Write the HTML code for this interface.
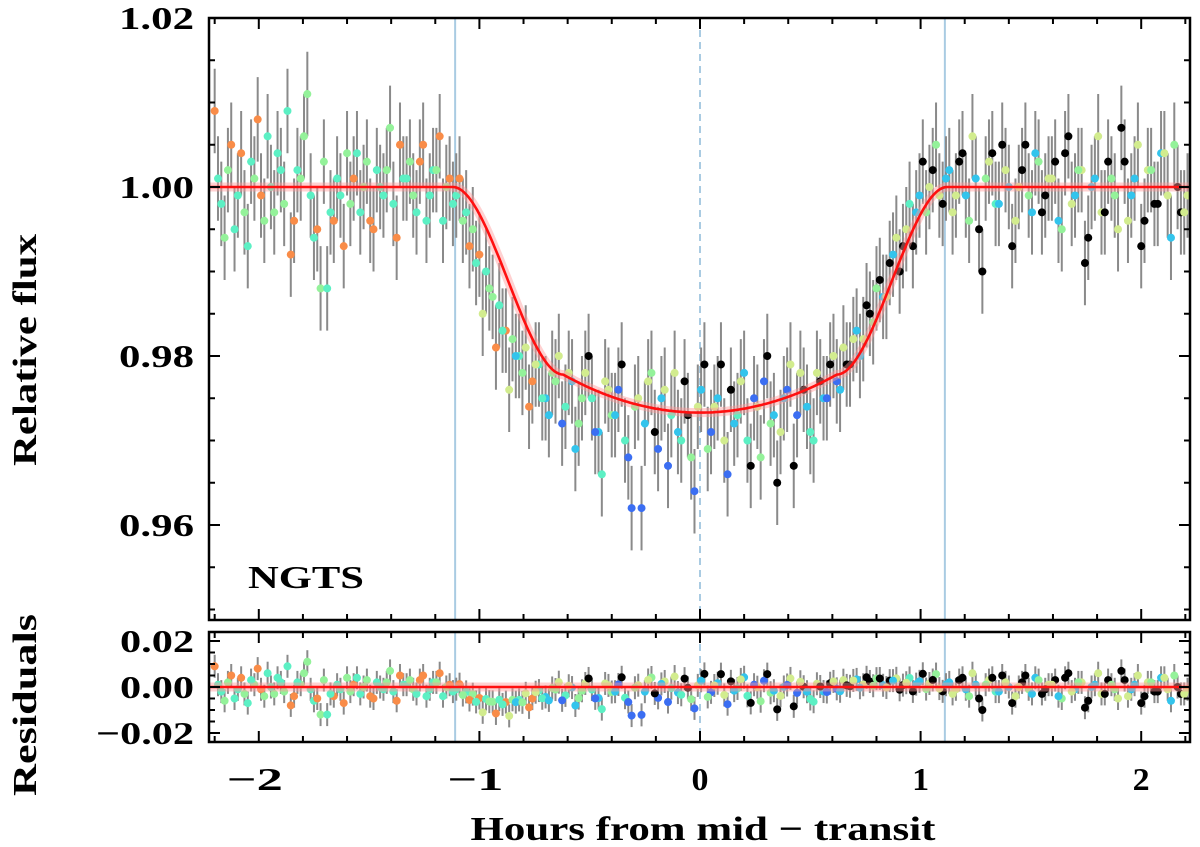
<!DOCTYPE html>
<html><head><meta charset="utf-8"><style>
html,body{margin:0;padding:0;background:#fff;}
svg{display:block;font-family:"Liberation Serif",serif;font-weight:bold;}
</style></head><body>
<svg id="chart" width="1200" height="847" viewBox="0 0 1200 847" xmlns="http://www.w3.org/2000/svg"></svg>
<script>
const times=[-2.20,-2.17,-2.14,-2.11,-2.08,-2.05,-2.02,-1.99,-1.96,-1.93,-1.90,-1.87,-1.84,-1.81,-1.78,-1.75,-1.72,-1.69,-1.66,-1.63,-1.60,-1.57,-1.54,-1.51,-1.48,-1.45,-1.42,-1.39,-1.36,-1.33,-1.30,-1.27,-1.24,-1.21,-1.18,-1.15,-1.12,-1.09,-1.06,-1.03,-1.00,-0.97,-0.94,-0.91,-0.88,-0.85,-0.82,-0.79,-0.76,-0.73,-0.70,-0.67,-0.64,-0.61,-0.58,-0.55,-0.52,-0.49,-0.46,-0.43,-0.40,-0.37,-0.34,-0.31,-0.28,-0.25,-0.22,-0.19,-0.16,-0.13,-0.10,-0.07,-0.04,-0.01,0.02,0.05,0.08,0.11,0.14,0.17,0.20,0.23,0.26,0.29,0.32,0.35,0.38,0.41,0.44,0.47,0.50,0.53,0.56,0.59,0.62,0.65,0.68,0.71,0.74,0.77,0.80,0.83,0.86,0.89,0.92,0.95,0.98,1.01,1.04,1.07,1.10,1.13,1.16,1.19,1.22,1.25,1.28,1.31,1.34,1.37,1.40,1.43,1.46,1.49,1.52,1.55,1.58,1.61,1.64,1.67,1.70,1.73,1.76,1.79,1.82,1.85,1.88,1.91,1.94,1.97,2.00,2.03,2.06,2.09,2.12,2.15,2.18,2.21];
const flux=[1.009,0.998,1.002,0.995,1.004,0.993,1.001,0.999,1.006,0.997,1.002,1.009,0.996,1.001,1.011,0.994,0.988,0.988,0.996,0.999,1.004,1.001,0.997,1.003,0.995,1.000,1.002,0.998,1.005,1.001,0.999,1.003,0.996,1.002,1.006,1.000,0.998,1.001,0.997,0.995,0.992,0.990,0.987,0.986,0.983,0.982,0.980,0.981,0.977,0.979,0.975,0.978,0.980,0.974,0.977,0.972,0.978,0.975,0.971,0.977,0.973,0.976,0.970,0.962,0.975,0.972,0.978,0.969,0.976,0.973,0.971,0.977,0.968,0.974,0.979,0.971,0.975,0.970,0.976,0.973,0.978,0.967,0.974,0.977,0.972,0.965,0.975,0.979,0.973,0.976,0.971,0.978,0.975,0.979,0.977,0.981,0.979,0.983,0.982,0.985,0.988,0.987,0.991,0.994,0.993,0.998,0.997,1.003,1.000,1.005,0.998,1.002,0.999,1.004,0.996,1.001,0.990,1.003,0.998,1.005,1.000,0.996,1.002,0.999,1.004,0.997,1.001,1.003,0.995,1.006,0.999,1.002,0.994,1.001,0.997,1.003,0.999,1.007,0.996,1.001,0.993,1.002,0.998,1.004,0.999,1.005,0.997,0.999];
const colorIdx=[0,1,2,1,0,1,2,0,1,2,1,1,0,2,2,1,2,1,0,1,2,0,1,2,0,1,2,1,0,1,2,0,1,1,0,2,1,0,1,2,0,1,2,1,0,2,1,3,0,1,4,2,3,1,4,2,3,1,4,3,2,5,1,5,3,4,2,5,3,1,4,6,2,3,6,5,4,3,6,1,4,6,3,5,2,6,4,3,5,6,1,3,4,6,5,3,6,4,3,6,2,4,6,3,6,1,4,6,3,2,6,4,3,6,2,4,6,3,1,6,4,3,6,2,4,6,3,6,2,6,4,3,6,4,3,6,2,6,3,4,6,3,6,4,3,2,6,3];
const times2=[-2.185,-2.155,-2.125,-2.095,-2.065,-2.035,-2.005,-1.975,-1.945,-1.915,-1.885,-1.855,-1.825,-1.795,-1.765,-1.735,-1.705,-1.675,-1.645,-1.615,-1.585,-1.555,-1.525,-1.495,-1.465,-1.435,-1.405,-1.375,-1.345,-1.315,-1.285,-1.255,-1.225,-1.195,-1.165,-1.135,-1.105,-1.075,-1.045,-1.015,-0.985,-0.955,-0.925,-0.895,-0.865,-0.835,-0.805,-0.775,-0.745,-0.715,-0.685,-0.655,-0.625,-0.595,-0.565,-0.535,-0.505,-0.475,-0.445,-0.415,-0.385,-0.355,-0.325,-0.295,-0.265,-0.235,-0.205,-0.175,-0.145,-0.115,-0.085,-0.055,-0.025,0.005,0.035,0.065,0.095,0.125,0.155,0.185,0.215,0.245,0.275,0.305,0.335,0.365,0.395,0.425,0.455,0.485,0.515,0.545,0.575,0.605,0.635,0.665,0.695,0.725,0.755,0.785,0.815,0.845,0.875,0.905,0.935,0.965,0.995,1.025,1.055,1.085,1.115,1.145,1.175,1.205,1.235,1.265,1.295,1.325,1.355,1.385,1.415,1.445,1.475,1.505,1.535,1.565,1.595,1.625,1.655,1.685,1.715,1.745,1.775,1.805,1.835,1.865,1.895,1.925,1.955,1.985,2.015,2.045,2.075,2.105,2.135,2.165,2.195];
const flux2=[1.001,0.994,1.005,0.999,0.997,1.003,1.008,0.996,1.000,1.004,0.998,0.992,1.002,1.006,0.999,0.995,1.003,0.997,1.001,0.993,0.998,1.004,1.000,0.996,1.002,0.999,1.007,0.994,1.001,1.003,0.997,1.005,0.999,1.002,0.996,1.001,0.999,0.996,0.993,0.991,0.985,0.988,0.981,0.983,0.976,0.980,0.978,0.974,0.979,0.975,0.973,0.977,0.972,0.978,0.969,0.975,0.980,0.971,0.966,0.976,0.973,0.979,0.968,0.974,0.962,0.977,0.971,0.975,0.967,0.978,0.970,0.973,0.964,0.976,0.969,0.974,0.979,0.966,0.972,0.977,0.970,0.975,0.968,0.980,0.973,0.971,0.976,0.967,0.978,0.974,0.970,0.977,0.975,0.980,0.976,0.979,0.982,0.980,0.986,0.984,0.989,0.987,0.992,0.990,0.995,0.993,0.999,0.997,1.002,0.999,1.001,0.997,1.003,0.999,1.006,0.995,1.001,1.004,0.998,1.002,0.993,1.000,1.005,0.997,1.003,0.999,1.001,0.996,1.004,0.998,1.002,0.991,1.000,1.006,0.997,1.001,0.995,1.003,0.999,1.005,0.996,1.002,0.998,1.004,0.994,1.000,0.997];
const colorIdx2=[1,2,0,1,2,1,0,2,1,1,2,0,1,2,1,0,2,1,1,0,2,1,2,0,1,1,2,0,1,2,1,0,1,2,1,0,1,2,0,1,3,2,0,1,3,4,2,0,3,1,4,2,5,3,4,2,6,5,1,3,4,6,5,2,5,3,6,4,5,3,1,6,5,4,2,3,6,5,4,3,1,5,2,6,4,3,5,6,3,4,1,6,5,3,4,6,3,4,6,2,6,3,4,6,3,6,4,2,6,3,4,3,6,4,3,6,2,6,4,3,6,3,6,4,2,6,3,4,6,3,2,6,4,3,6,2,3,6,4,3,6,2,6,3,4,6,3];
const xTicks=[-2,-1,0,1,2];
const fluxTicks=[0.96,0.98,1.00,1.02];
const resTicks=[-0.02,0.00,0.02];
const palette=["#f98c48","#5cf0c4","#94f29a","#d2ec8e","#33c4ec","#3b6ef2","#000000"];

const svg=document.getElementById('chart');
const NS="http://www.w3.org/2000/svg";
const L=209,R=1190,T1=18,B1=620,T2=632,B2=742;
const xS=t=>700+t*220.6;
const yF=f=>187-(f-1.0)*8450;
const yR=r=>687-r*2300;
function mk(tag,attrs,parent){const e=document.createElementNS(NS,tag);for(const k in attrs)e.setAttribute(k,attrs[k]);(parent||svg).appendChild(e);return e;}
function model(t){const a=Math.abs(t);if(a<=0.62)return 0.9733+0.0045*(a/0.62)**2;if(a>=1.12)return 1.0;const u=(a-0.62)/0.5;const s=u*u*(3-2*u);return 0.9778+0.0222*s;}
const allT=times.concat(times2),allF=flux.concat(flux2),allC=colorIdx.concat(colorIdx2);

const defs=mk('defs',{});
const c1=mk('clipPath',{id:'c1'},defs);mk('rect',{x:L,y:T1,width:R-L,height:B1-T1},c1);
const c2=mk('clipPath',{id:'c2'},defs);mk('rect',{x:L,y:T2,width:R-L,height:B2-T2},c2);

function panel(clip,yfun,isRes,name){
  const g=mk('g',{'clip-path':'url(#'+clip+')'});
  
  
  const top=isRes?T2:T1,bot=isRes?B2:B1;
  [-1.11,1.11].forEach(v=>{const l=mk('line',{x1:xS(v),x2:xS(v),y1:top,y2:bot,stroke:'#a9cbe2','stroke-width':2},g);});
  const mid=mk('line',{x1:xS(0),x2:xS(0),y1:top,y2:bot,stroke:'#a9cbe2','stroke-width':2,'stroke-dasharray':'7,5'},g);
  
  const err=0.005;
  for(let i=0;i<allT.length;i++){
    const v=isRes?allF[i]-model(allT[i]):allF[i];
    const x=xS(allT[i]);
    const e=mk('line',{x1:x,x2:x,y1:yfun(v+err),y2:yfun(v-err),stroke:'#8a8a8a','stroke-width':2},g);
    
    
  }
  for(let i=0;i<allT.length;i++){
    const v=isRes?allF[i]-model(allT[i]):allF[i];
    const p=mk('circle',{cx:xS(allT[i]),cy:yfun(v),r:4,fill:palette[allC[i]]},g);
    
    
  }
  let d='';
  for(let t=-2.3;t<=2.3;t+=0.01){const y=isRes?yR(0):yF(model(t));d+=(d?'L':'M')+xS(t).toFixed(1)+','+y.toFixed(1);}
  const band=mk('path',{d:d,fill:'none',stroke:'#ff9a9a','stroke-opacity':0.45,'stroke-width':9},g);
  
  const ml=mk('path',{d:d,fill:'none',stroke:'#ff1010','stroke-width':2.6},g);
  
}
panel('c1',yF,false,'flux-panel');
panel('c2',yR,true,'residuals-panel');

function frame(top,bot,yfun,ticks,minStep,lo,hi,fmt,name,wfun){
  const r=mk('rect',{x:L,y:top,width:R-L,height:bot-top,fill:'none',stroke:'#000','stroke-width':2.5});
  
  for(let v=-2.2;v<=2.21;v+=0.2){const x=xS(v);const maj=Math.abs(v-Math.round(v))<1e-6;const len=maj?11:6;
    mk('line',{x1:x,x2:x,y1:bot,y2:bot-len,stroke:'#000','stroke-width':2});
    mk('line',{x1:x,x2:x,y1:top,y2:top+len,stroke:'#000','stroke-width':2});}
  for(let v=lo;v<=hi+1e-9;v+=minStep){const y=yfun(v);if(y<top-1||y>bot+1)continue;
    const maj=ticks.some(t=>Math.abs(t-v)<1e-6);const len=maj?11:6;
    mk('line',{x1:L,x2:L+len,y1:y,y2:y,stroke:'#000','stroke-width':2});
    mk('line',{x1:R,x2:R-len,y1:y,y2:y,stroke:'#000','stroke-width':2});}
  ticks.forEach(v=>{const s=fmt(v);const t=mk('text',{x:L-15,y:yfun(v)+11,'text-anchor':'end','font-size':32,textLength:wfun(s),lengthAdjust:'spacingAndGlyphs'});t.textContent=s;
    });
}
frame(T1,B1,yF,fluxTicks,0.005,0.945,1.025,v=>v.toFixed(2),'flux-axes',s=>75);
frame(T2,B2,yR,resTicks,0.005,-0.025,0.025,v=>(v<0?'\u22120.02':v.toFixed(2)),'residual-axes',s=>s.length>4?98:74);
xTicks.forEach(v=>{const s=v<0?'\u2212'+Math.abs(v):String(v);const t=mk('text',{x:xS(v)+(v<0?-4:0),y:790,'text-anchor':'middle','font-size':32,textLength:v<0?56:17,lengthAdjust:'spacingAndGlyphs'});t.textContent=s;
  });
const lab=mk('text',{x:248,y:588,'font-size':32,textLength:116,lengthAdjust:'spacingAndGlyphs'});lab.textContent='NGTS';

const xt=mk('text',{x:703,y:840,'text-anchor':'middle','font-size':34,textLength:465,lengthAdjust:'spacingAndGlyphs'});xt.textContent='Hours from mid \u2212 transit';

const yt=mk('text',{x:0,y:0,'text-anchor':'middle','font-size':34,textLength:232,lengthAdjust:'spacingAndGlyphs',transform:'translate(36,350) rotate(-90)'});yt.textContent='Relative flux';

const rt=mk('text',{x:0,y:0,'text-anchor':'middle','font-size':34,textLength:182,lengthAdjust:'spacingAndGlyphs',transform:'translate(36,705) rotate(-90)'});rt.textContent='Residuals';

</script>
</body></html>
